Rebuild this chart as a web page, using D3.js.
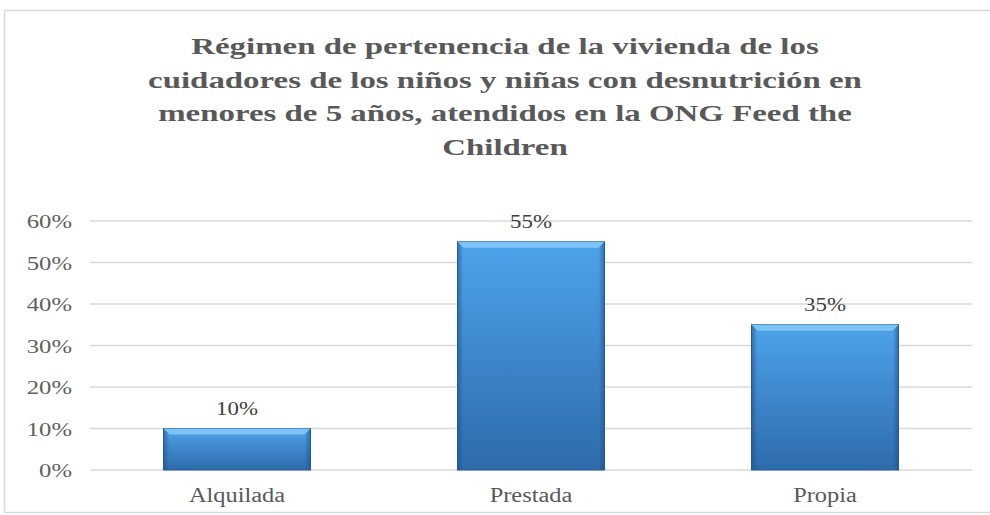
<!DOCTYPE html>
<html>
<head>
<meta charset="utf-8">
<script src="https://cdn.jsdelivr.net/npm/d3@7"></script>
<style>
  html, body { margin: 0; padding: 0; background: #fff; }
  svg { display: block; }
  text { font-family: "Liberation Serif", "Times New Roman", Tinos, "DejaVu Serif", serif; }
</style>
</head>
<body>
<div id="chart"></div>
<script>
// Data
const categories = ["Alquilada", "Prestada", "Propia"];
const values = [0.10, 0.55, 0.35];
const valueLabels = ["10%", "55%", "35%"];
const tickValues = [0, 0.1, 0.2, 0.3, 0.4, 0.5, 0.6];
const titleLines = [
  "Régimen de pertenencia de la vivienda de los",
  "cuidadores de los niños y niñas con desnutrición en",
  "menores de 5 años, atendidos en la ONG Feed the",
  "Children"
];

const W = 990, H = 515;
const margin = { left: 90, right: 18, top: 221, bottom: 45 };

const svg = d3.select("#chart").append("svg")
  .attr("width", W).attr("height", H);

// Widen a text element horizontally, keeping its anchor point fixed
function widen(sel, sx) {
  sel.each(function () {
    const w = this.getComputedTextLength();
    d3.select(this).attr("textLength", w * sx).attr("lengthAdjust", "spacingAndGlyphs");
  });
}

const defs = svg.append("defs");
const bodyGrad = defs.append("linearGradient")
  .attr("id", "barBody").attr("x1", 0).attr("y1", 0).attr("x2", 0).attr("y2", 1);
bodyGrad.append("stop").attr("offset", "0%").attr("stop-color", "#4ea3ea");
bodyGrad.append("stop").attr("offset", "100%").attr("stop-color", "#2d6bab");
const sideGrad = defs.append("linearGradient")
  .attr("id", "barSide").attr("x1", 0).attr("y1", 0).attr("x2", 1).attr("y2", 0);
sideGrad.append("stop").attr("offset", "0%").attr("stop-color", "#1d4f85").attr("stop-opacity", 0.6);
sideGrad.append("stop").attr("offset", "4%").attr("stop-color", "#1d4f85").attr("stop-opacity", 0);
sideGrad.append("stop").attr("offset", "96%").attr("stop-color", "#1d4f85").attr("stop-opacity", 0);
sideGrad.append("stop").attr("offset", "100%").attr("stop-color", "#1d4f85").attr("stop-opacity", 0.6);

// Chart frame
svg.append("rect")
  .attr("x", 4.5).attr("y", 10.5).attr("width", W + 10).attr("height", H - 13)
  .attr("fill", "#fff").attr("stroke", "#d9d9d9").attr("stroke-width", 1.5);

const x = d3.scaleBand()
  .domain(categories)
  .range([margin.left, W - margin.right])
  .paddingInner(0.5).paddingOuter(0.25);

const y = d3.scaleLinear()
  .domain([0, 0.6])
  .range([H - margin.bottom, margin.top]);

// Gridlines
svg.append("g")
  .selectAll("line")
  .data(tickValues)
  .join("line")
  .attr("x1", margin.left).attr("x2", W - margin.right)
  .attr("y1", d => y(d)).attr("y2", d => y(d))
  .attr("stroke", "#d9d9d9").attr("stroke-width", 1.5);

// Y axis
const yAxis = svg.append("g")
  .attr("transform", `translate(${margin.left - 18},0)`)
  .call(d3.axisLeft(y).tickValues(tickValues).tickFormat(d3.format(".0%")).tickSize(0).tickPadding(0));
yAxis.select(".domain").remove();
yAxis.selectAll("text")
  .attr("font-family", null)
  .attr("font-size", 19).attr("fill", "#606060")
  .attr("dy", "0.35em")
  .call(widen, 1.3);

// X axis labels
const xAxis = svg.append("g")
  .attr("transform", `translate(0,${H - margin.bottom})`)
  .call(d3.axisBottom(x).tickSize(0).tickPadding(18));
xAxis.select(".domain").remove();
xAxis.selectAll("text")
  .attr("font-family", null)
  .attr("font-size", 20).attr("fill", "#595959")
  .call(widen, 1.22);

// Bars
const bars = svg.append("g").selectAll("g")
  .data(categories.map((c, i) => ({ c, v: values[i], label: valueLabels[i] })))
  .join("g");

bars.append("rect")
  .attr("x", d => x(d.c)).attr("width", x.bandwidth())
  .attr("y", d => y(d.v)).attr("height", d => y(0) - y(d.v))
  .attr("fill", "url(#barBody)")
  .attr("stroke", "#2a5f96").attr("stroke-width", 1);

bars.append("rect")
  .attr("x", d => x(d.c)).attr("width", x.bandwidth())
  .attr("y", d => y(d.v)).attr("height", d => y(0) - y(d.v))
  .attr("fill", "url(#barSide)");

// Bevel highlight along the top edge
bars.append("path")
  .attr("d", d => {
    const x0 = x(d.c), x1 = x0 + x.bandwidth(), t = y(d.v);
    return `M${x0},${t}L${x1},${t}L${x1 - 6},${t + 6}L${x0 + 6},${t + 6}Z`;
  })
  .attr("fill", "#82c8f7").attr("opacity", 0.9);

// Value labels
bars.append("text")
  .attr("x", d => x(d.c) + x.bandwidth() / 2)
  .attr("y", d => y(d.v) - 14)
  .attr("text-anchor", "middle")
  .attr("font-size", 18).attr("fill", "#404040")
  .text(d => d.label)
  .call(widen, 1.27);

// Title
svg.append("g").selectAll("text")
  .data(titleLines)
  .join("text")
  .attr("x", 505)
  .attr("y", (d, i) => 54 + i * 33.7)
  .attr("text-anchor", "middle")
  .attr("font-weight", "bold")
  .attr("font-size", 24).attr("fill", "#595959")
  .text(d => d)
  .call(widen, 1.37);
</script>
</body>
</html>
